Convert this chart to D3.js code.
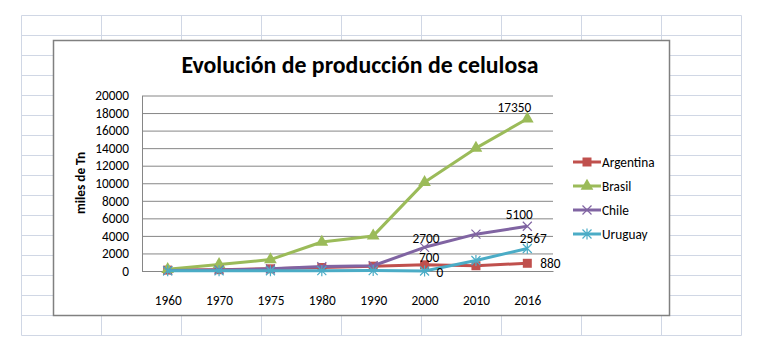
<!DOCTYPE html>
<html lang="es">
<head>
<meta charset="UTF-8">
<title>Evolución de producción de celulosa</title>
<style>
* { margin: 0; padding: 0; }
body { background: #fff; }
svg { display: block; font-family: Calibri, Carlito, "Liberation Sans", Arial, sans-serif; }
</style>
<script src="https://cdn.jsdelivr.net/npm/d3@7"></script>
</head>
<body>
<svg id="svg1" width="764" height="354"></svg>
<script>
// datos (miles de Tn)
const years = ["1960", "1970", "1975", "1980", "1990", "2000", "2010", "2016"];
const argentina = [100, 150, 250, 400, 550, 700, 600, 880];
const brasil = [200, 750, 1300, 3300, 4000, 10100, 14000, 17350];
const chile = [50, 120, 250, 500, 600, 2700, 4200, 5100];
const uruguay = [20, 20, 30, 40, 50, 0, 1200, 2567];
const seriesNames = ["Argentina", "Brasil", "Chile", "Uruguay"];
const yTicks = [0, 2000, 4000, 6000, 8000, 10000, 12000, 14000, 16000, 18000, 20000];

// etiquetas de datos: serie, año
const dataLabels = [
  { s: 1, year: "2016", dx: -13, dy: -6.5, anchor: "middle" },
  { s: 2, year: "2016", dx: -8, dy: -7, anchor: "middle" },
  { s: 2, year: "2000", dx: 1.5, dy: -4, anchor: "middle" },
  { s: 0, year: "2000", dx: 4.5, dy: -3, anchor: "middle" },
  { s: 3, year: "2000", dx: 12, dy: 5.5, anchor: "start" },
  { s: 3, year: "2016", dx: 6, dy: -5, anchor: "middle" },
  { s: 0, year: "2016", dx: 13, dy: 4.5, anchor: "start" }
];

const colors = ["#c0504d", "#9bbb59", "#8064a2", "#4bacc6"];
const values = [argentina, brasil, chile, uruguay];
const fs = 13.3;

const svg = d3.select("#svg1");

// cuadrícula de la hoja de cálculo
const sheet = svg.append("g").attr("stroke", "#d0d7e5").attr("stroke-width", 1);
d3.range(10).forEach(i => {
  sheet.append("line").attr("x1", 21.5 + i * 80).attr("x2", 21.5 + i * 80).attr("y1", 15.5).attr("y2", 335.5);
});
d3.range(17).forEach(i => {
  sheet.append("line").attr("x1", 21.5).attr("x2", 741.5).attr("y1", 15.5 + i * 20).attr("y2", 15.5 + i * 20);
});

// área del gráfico
svg.append("rect")
  .attr("x", 53.5).attr("y", 40.5).attr("width", 616).attr("height", 275)
  .attr("fill", "#fff").attr("stroke", "#808080").attr("stroke-width", 1.5);

svg.append("text")
  .attr("x", 360).attr("y", 73)
  .attr("text-anchor", "middle")
  .attr("font-size", 24).attr("font-weight", "bold")
  .attr("textLength", 357).attr("lengthAdjust", "spacingAndGlyphs")
  .text("Evolución de producción de celulosa");

const x = d3.scalePoint().domain(years).range([142, 553]).padding(0.5);
const y = d3.scaleLinear().domain([0, 20000]).range([271, 95.5]);

// eje Y con líneas de división
const gy = svg.append("g").attr("transform", "translate(142,0)")
  .call(d3.axisLeft(y).tickValues(yTicks).tickFormat(d3.format("d"))
    .tickSize(-411).tickSizeOuter(0).tickPadding(13));
gy.selectAll("line").attr("stroke", "#868686");
gy.select(".domain").attr("stroke", "#868686");
gy.selectAll("text").attr("font-size", fs).attr("fill", "#000");

// eje X
const gx = svg.append("g").attr("transform", "translate(0,271)")
  .call(d3.axisBottom(x).tickSize(0).tickSizeOuter(0).tickPadding(25));
gx.select(".domain").attr("stroke", "#868686");
gx.selectAll("text").attr("font-size", fs).attr("fill", "#000");
svg.selectAll("g").attr("font-family", null).attr("font-size", null);

svg.append("text")
  .attr("transform", "translate(80,183) rotate(-90)")
  .attr("text-anchor", "middle").attr("dominant-baseline", "central")
  .attr("font-size", fs).attr("font-weight", "bold")
  .text("miles de Tn");

// marcadores
function marker(sel, i) {
  const c = colors[i];
  if (i === 0) {
    sel.append("path").attr("d", d3.symbol(d3.symbolSquare, 81)()).attr("fill", c);
  } else if (i === 1) {
    sel.append("path").attr("d", d3.symbol(d3.symbolTriangle, 70)()).attr("fill", c);
  } else if (i === 2) {
    sel.append("path").attr("d", "M-4.5,-4.5L4.5,4.5M4.5,-4.5L-4.5,4.5").attr("stroke", c).attr("stroke-width", 1.2).attr("fill", "none");
  } else {
    sel.append("path").attr("d", "M-4.5,-4.5L4.5,4.5M4.5,-4.5L-4.5,4.5M0,-5.5L0,5.5").attr("stroke", c).attr("stroke-width", 1.2).attr("fill", "none");
  }
}

const line = d3.line().x((d, k) => x(years[k])).y(d => y(d));

values.forEach((vals, i) => {
  const g = svg.append("g");
  g.append("path").datum(vals)
    .attr("d", line)
    .attr("fill", "none").attr("stroke", colors[i]).attr("stroke-width", 3)
    .attr("stroke-linejoin", "round");
  g.selectAll("g.m").data(vals).enter().append("g")
    .attr("transform", (d, k) => `translate(${x(years[k])},${y(d)})`)
    .each(function () { marker(d3.select(this), i); });
});

// etiquetas
svg.append("g").selectAll("text").data(dataLabels).enter().append("text")
  .attr("x", d => x(d.year) + d.dx)
  .attr("y", d => y(values[d.s][years.indexOf(d.year)]) + d.dy)
  .attr("text-anchor", d => d.anchor)
  .attr("font-size", fs)
  .text(d => values[d.s][years.indexOf(d.year)]);

// leyenda
const legend = svg.append("g");
seriesNames.forEach((name, i) => {
  const ly = 162 + i * 24;
  legend.append("line").attr("x1", 573).attr("x2", 601).attr("y1", ly).attr("y2", ly)
    .attr("stroke", colors[i]).attr("stroke-width", 3);
  const m = legend.append("g").attr("transform", `translate(587,${ly})`);
  marker(m, i);
  legend.append("text").attr("x", 602).attr("y", ly).attr("dominant-baseline", "central")
    .attr("font-size", fs).text(name);
});
</script>
</body>
</html>
